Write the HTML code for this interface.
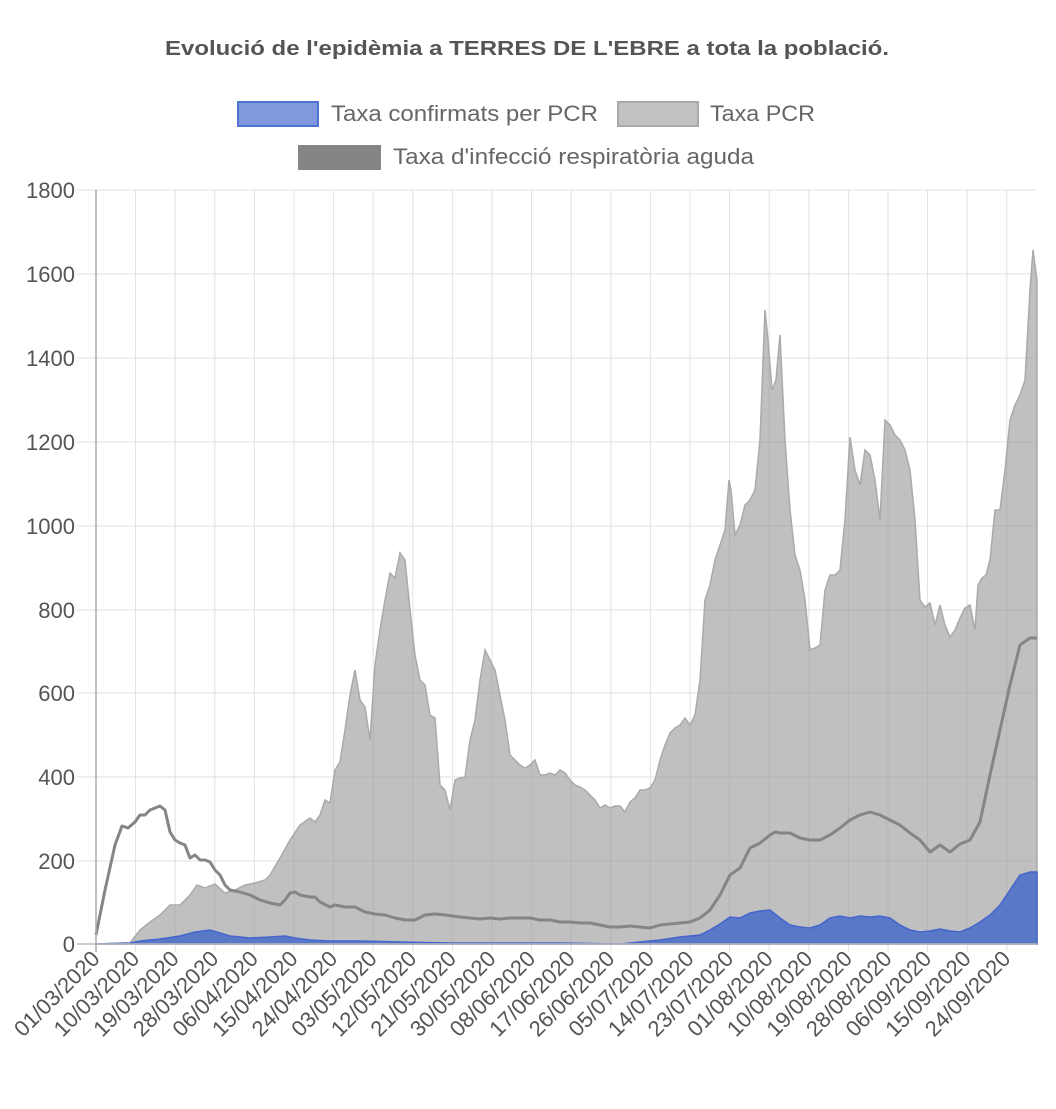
<!DOCTYPE html>
<html><head><meta charset="utf-8"><style>body{margin:0;background:#fff}</style></head><body>
<svg width="1056" height="1104" xmlns="http://www.w3.org/2000/svg" font-family="Liberation Sans, Arial, sans-serif">
<text x="165" y="55" font-size="20" font-weight="bold" fill="#555" textLength="724" lengthAdjust="spacingAndGlyphs">Evolució de l'epidèmia a TERRES DE L'EBRE a tota la població.</text>
<rect x="238" y="102" width="80" height="24" fill="#8199dc" stroke="#4f72d4" stroke-width="2"/>
<text x="331" y="121" font-size="22" fill="#666" textLength="267" lengthAdjust="spacingAndGlyphs">Taxa confirmats per PCR</text>
<rect x="618" y="102" width="80" height="24" fill="#c1c1c1" stroke="#aaa" stroke-width="2"/>
<text x="710" y="121" font-size="22" fill="#666" textLength="105" lengthAdjust="spacingAndGlyphs">Taxa PCR</text>
<rect x="298" y="145" width="83" height="25" fill="#858585"/>
<text x="393" y="164" font-size="22" fill="#666" textLength="361" lengthAdjust="spacingAndGlyphs">Taxa d'infecció respiratòria aguda</text>
<g stroke="#e2e2e2" stroke-width="1">
<line x1="77" y1="190" x2="1037" y2="190"/><line x1="77" y1="274" x2="1037" y2="274"/><line x1="77" y1="358" x2="1037" y2="358"/><line x1="77" y1="442" x2="1037" y2="442"/><line x1="77" y1="526" x2="1037" y2="526"/><line x1="77" y1="610" x2="1037" y2="610"/><line x1="77" y1="693" x2="1037" y2="693"/><line x1="77" y1="777" x2="1037" y2="777"/><line x1="77" y1="861" x2="1037" y2="861"/>
<line x1="135.6" y1="190" x2="135.6" y2="952"/><line x1="175.2" y1="190" x2="175.2" y2="952"/><line x1="214.8" y1="190" x2="214.8" y2="952"/><line x1="254.4" y1="190" x2="254.4" y2="952"/><line x1="294" y1="190" x2="294" y2="952"/><line x1="333.6" y1="190" x2="333.6" y2="952"/><line x1="373.2" y1="190" x2="373.2" y2="952"/><line x1="412.8" y1="190" x2="412.8" y2="952"/><line x1="452.4" y1="190" x2="452.4" y2="952"/><line x1="492" y1="190" x2="492" y2="952"/><line x1="531.6" y1="190" x2="531.6" y2="952"/><line x1="571.2" y1="190" x2="571.2" y2="952"/><line x1="610.8" y1="190" x2="610.8" y2="952"/><line x1="650.4" y1="190" x2="650.4" y2="952"/><line x1="690" y1="190" x2="690" y2="952"/><line x1="729.6" y1="190" x2="729.6" y2="952"/><line x1="769.2" y1="190" x2="769.2" y2="952"/><line x1="808.8" y1="190" x2="808.8" y2="952"/><line x1="848.4" y1="190" x2="848.4" y2="952"/><line x1="888" y1="190" x2="888" y2="952"/><line x1="927.6" y1="190" x2="927.6" y2="952"/><line x1="967.2" y1="190" x2="967.2" y2="952"/><line x1="1006.8" y1="190" x2="1006.8" y2="952"/>
</g>
<g font-size="22" fill="#555" text-anchor="end">
<text x="75" y="198">1800</text><text x="75" y="282">1600</text><text x="75" y="366">1400</text><text x="75" y="450">1200</text><text x="75" y="534">1000</text><text x="75" y="618">800</text><text x="75" y="701">600</text><text x="75" y="785">400</text><text x="75" y="869">200</text><text x="75" y="952">0</text>
</g>
<polygon fill="rgba(150,150,150,0.6)" stroke="#aaa" stroke-width="1.5" points="96,944 130,943 140,930 150,922 160,915 170,905 180,905 190,895 197,885 205,888 215,884 225,893 235,890 245,885 255,883 265,880 270,875 280,858 290,840 300,825 310,818 315,822 320,815 325,800 330,803 335,770 340,762 345,730 350,695 355,670 360,700 365,707 370,740 375,665 380,630 385,600 390,573 395,578 400,553 405,560 410,610 415,655 420,680 425,685 430,715 435,718 440,785 445,790 450,810 455,780 460,778 465,777 470,740 475,720 480,680 485,650 490,660 495,670 500,695 505,720 510,755 515,760 520,765 525,768 530,765 535,760 540,775 545,775 550,773 555,775 560,770 565,773 570,780 575,785 580,787 585,790 590,795 595,800 600,808 605,805 610,808 615,806 620,806 625,812 630,802 635,798 640,790 645,790 650,788 655,780 660,760 665,745 670,733 675,728 680,725 685,718 690,725 695,715 700,680 705,600 710,585 715,560 720,545 725,530 729,480 731,490 735,535 740,525 745,505 750,500 755,490 760,440 765,310 768,340 772,390 776,380 780,335 785,440 790,510 795,555 800,570 805,600 810,650 815,648 820,645 825,590 830,575 835,575 840,570 845,520 850,437 855,470 860,485 865,450 870,455 875,480 880,520 885,420 890,425 895,435 900,440 905,450 910,470 915,520 920,600 925,607 930,603 935,625 940,605 945,625 950,637 955,630 960,618 965,608 970,605 975,630 978,585 982,578 986,575 990,560 995,510 1000,510 1005,470 1010,420 1015,405 1020,395 1025,380 1030,290 1033,250 1037,280 1037,944"/>
<polygon fill="#5a78c8" stroke="#4466cc" stroke-width="1.5" points="96,944 130,943 140,941 160,939 180,936 195,932 210,930 220,933 230,936 250,938 270,937 285,936 295,938 310,940 330,941 360,941 400,942 450,943 500,943 560,943 620,944 640,942 660,940 680,937 700,935 710,930 720,924 730,917 740,918 750,913 760,911 770,910 780,918 790,925 800,927 810,928 820,925 830,918 840,916 850,918 860,916 870,917 880,916 890,918 900,925 910,930 920,932 930,931 940,929 950,931 960,932 970,928 980,922 990,915 1000,905 1010,890 1020,875 1030,872 1037,872 1037,944"/>
<polyline fill="none" stroke="#858585" stroke-width="3" stroke-linejoin="round" points="96,935 105,890 115,845 122,826 128,828 135,822 140,815 145,815 150,810 155,808 160,806 165,810 170,832 175,840 180,843 185,845 190,858 195,855 200,860 205,860 210,862 215,870 220,875 225,885 230,890 240,892 250,895 260,900 270,903 280,905 285,900 290,893 295,892 300,895 310,897 315,897 320,902 330,907 335,905 345,907 355,907 365,912 375,914 385,915 395,918 405,920 415,920 425,915 435,914 445,915 460,917 470,918 480,919 490,918 500,919 510,918 520,918 530,918 540,920 550,920 560,922 570,922 580,923 590,923 600,925 610,927 620,927 630,926 640,927 650,928 660,925 670,924 680,923 690,922 700,918 710,910 720,895 730,875 740,868 750,848 760,843 770,835 775,832 780,833 790,833 800,838 810,840 820,840 830,835 840,828 850,820 860,815 870,812 880,815 890,820 900,825 910,833 920,840 930,852 940,845 950,852 960,844 970,840 980,822 990,775 1000,730 1010,685 1020,645 1030,638 1037,638"/>
<line x1="77" y1="944" x2="1037" y2="944" stroke="#bbb" stroke-width="1.5"/>
<line x1="96" y1="190" x2="96" y2="952" stroke="#aaa" stroke-width="1.5"/>
<g font-size="22" fill="#555" text-anchor="end">
<text transform="translate(101,960) rotate(-45)">01/03/2020</text>
<text transform="translate(140.6,960) rotate(-45)">10/03/2020</text>
<text transform="translate(180.2,960) rotate(-45)">19/03/2020</text>
<text transform="translate(219.8,960) rotate(-45)">28/03/2020</text>
<text transform="translate(259.4,960) rotate(-45)">06/04/2020</text>
<text transform="translate(299,960) rotate(-45)">15/04/2020</text>
<text transform="translate(338.6,960) rotate(-45)">24/04/2020</text>
<text transform="translate(378.2,960) rotate(-45)">03/05/2020</text>
<text transform="translate(417.8,960) rotate(-45)">12/05/2020</text>
<text transform="translate(457.4,960) rotate(-45)">21/05/2020</text>
<text transform="translate(497,960) rotate(-45)">30/05/2020</text>
<text transform="translate(536.6,960) rotate(-45)">08/06/2020</text>
<text transform="translate(576.2,960) rotate(-45)">17/06/2020</text>
<text transform="translate(615.8,960) rotate(-45)">26/06/2020</text>
<text transform="translate(655.4,960) rotate(-45)">05/07/2020</text>
<text transform="translate(695,960) rotate(-45)">14/07/2020</text>
<text transform="translate(734.6,960) rotate(-45)">23/07/2020</text>
<text transform="translate(774.2,960) rotate(-45)">01/08/2020</text>
<text transform="translate(813.8,960) rotate(-45)">10/08/2020</text>
<text transform="translate(853.4,960) rotate(-45)">19/08/2020</text>
<text transform="translate(893,960) rotate(-45)">28/08/2020</text>
<text transform="translate(932.6,960) rotate(-45)">06/09/2020</text>
<text transform="translate(972.2,960) rotate(-45)">15/09/2020</text>
<text transform="translate(1011.8,960) rotate(-45)">24/09/2020</text>
</g>
</svg>
</body></html>
